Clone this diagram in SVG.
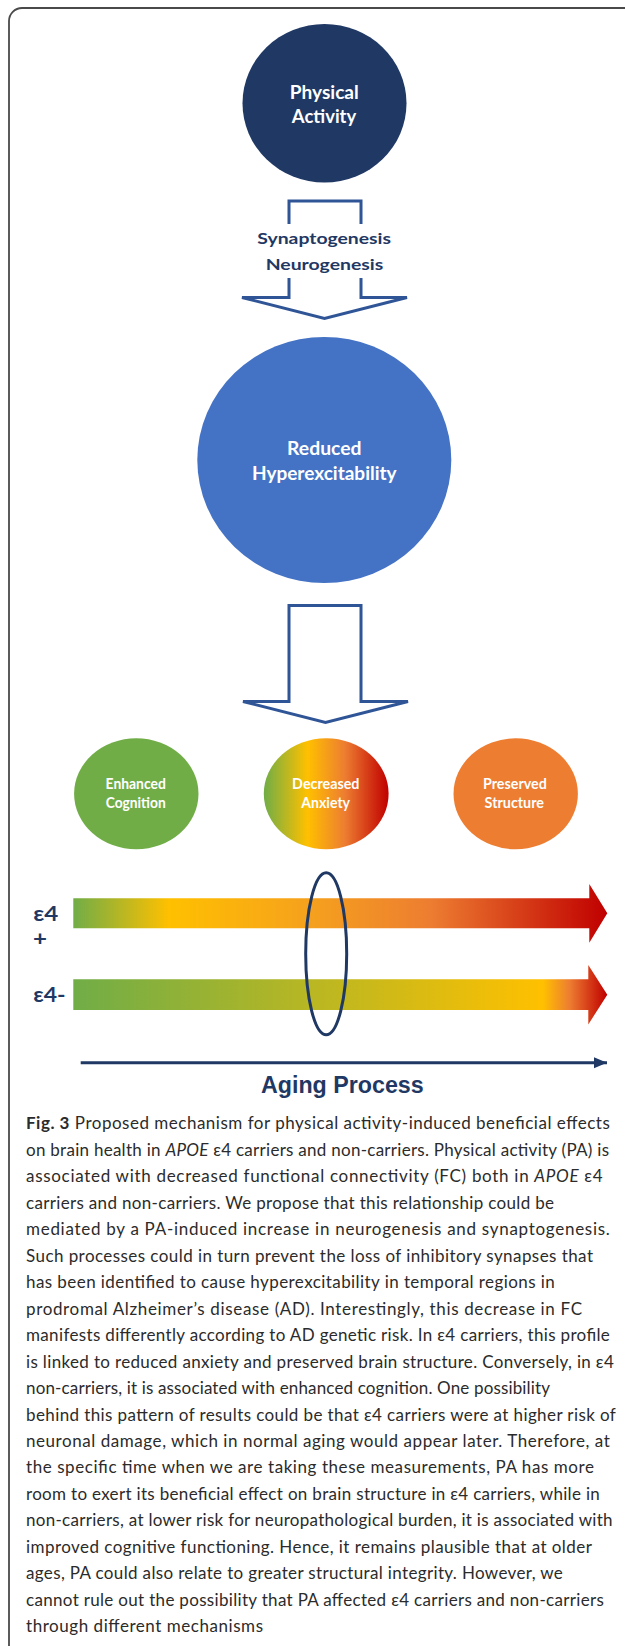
<svg xmlns="http://www.w3.org/2000/svg" width="625" height="1646" viewBox="0 0 625 1646">
<style>
  .lbl { font-family: Lato, "Open Sans", "Liberation Sans", sans-serif; font-weight: bold; fill: #ffffff; text-anchor: middle; }
  .big { font-size: 18.5px; }
  .mid { font-size: 16px; fill: #1F3864; }
  .sm { font-size: 14.5px; }
  .gen { font-family: Lato, "Open Sans", "Liberation Sans", sans-serif; font-weight: bold; font-size: 20px; fill: #1F3864; }
  .outline { fill: #ffffff; stroke: #2F5597; stroke-width: 3; stroke-linejoin: miter; }
  .cap { font-family: Lato, "Open Sans", "Liberation Sans", sans-serif; font-size: 17px; fill: #2b2b2b; }
</style>
<defs>
  <linearGradient id="gAnx" x1="0" y1="0" x2="1" y2="0">
    <stop offset="0" stop-color="#70AD47"/>
    <stop offset="0.35" stop-color="#FFC000"/>
    <stop offset="0.65" stop-color="#ED7D31"/>
    <stop offset="1" stop-color="#C00000"/>
  </linearGradient>
  <linearGradient id="gPlus" gradientUnits="userSpaceOnUse" x1="73" y1="0" x2="607" y2="0">
    <stop offset="0" stop-color="#70AD47"/>
    <stop offset="0.18" stop-color="#FFC000"/>
    <stop offset="0.45" stop-color="#F5A01E"/>
    <stop offset="0.67" stop-color="#ED7D31"/>
    <stop offset="1" stop-color="#C00000"/>
  </linearGradient>
  <linearGradient id="gMinus" gradientUnits="userSpaceOnUse" x1="73" y1="0" x2="607" y2="0">
    <stop offset="0" stop-color="#70AD47"/>
    <stop offset="0.88" stop-color="#FFC000"/>
    <stop offset="0.93" stop-color="#ED7D31"/>
    <stop offset="1" stop-color="#C00000"/>
  </linearGradient>
  <marker id="axHead" markerWidth="14" markerHeight="12" refX="13" refY="6" orient="auto" markerUnits="userSpaceOnUse">
    <path d="M0,0.5 L13,6 L0,11.5 Z" fill="#1F3864"/>
  </marker>
</defs>

<rect x="9" y="8" width="660" height="1680" rx="13" ry="13" fill="none" stroke="#4a4a4a" stroke-width="1.8"/>

<g id="physical-activity">
  <ellipse cx="324.5" cy="103.3" rx="82" ry="79.3" fill="#1F3864"/>
  <text class="lbl big" x="324.3" y="99.3" textLength="69" lengthAdjust="spacingAndGlyphs">Physical</text>
  <text class="lbl big" x="324" y="123.3" textLength="64.3" lengthAdjust="spacingAndGlyphs">Activity</text>
</g>

<g id="reduced-hyperexcitability">
  <ellipse cx="324.3" cy="460" rx="127" ry="123" fill="#4472C4"/>
  <text class="lbl big" x="324.3" y="455" textLength="74.5" lengthAdjust="spacingAndGlyphs">Reduced</text>
  <text class="lbl big" x="324.3" y="479.5" textLength="144.7" lengthAdjust="spacingAndGlyphs">Hyperexcitability</text>
</g>

<g id="enhanced-cognition">
  <ellipse cx="136.3" cy="793.8" rx="62.2" ry="55.5" fill="#70AD47"/>
  <text class="lbl sm" x="135.7" y="789.3" textLength="60.2" lengthAdjust="spacingAndGlyphs">Enhanced</text>
  <text class="lbl sm" x="135.7" y="808.3" textLength="60" lengthAdjust="spacingAndGlyphs">Cognition</text>
</g>

<g id="decreased-anxiety">
  <ellipse cx="326.2" cy="793.8" rx="62.4" ry="55.5" fill="url(#gAnx)"/>
  <text class="lbl sm" x="325.8" y="789.3" textLength="67.4" lengthAdjust="spacingAndGlyphs">Decreased</text>
  <text class="lbl sm" x="325.7" y="808.3" textLength="48.7" lengthAdjust="spacingAndGlyphs">Anxiety</text>
</g>

<g id="preserved-structure">
  <ellipse cx="515.7" cy="793.8" rx="62.2" ry="55.5" fill="#ED7D31"/>
  <text class="lbl sm" x="514.9" y="789.3" textLength="63.8" lengthAdjust="spacingAndGlyphs">Preserved</text>
  <text class="lbl sm" x="514.3" y="808.3" textLength="59.4" lengthAdjust="spacingAndGlyphs">Structure</text>
</g>

<g id="e4-plus">
  <polygon points="73.3,898.3 589.3,898.3 589.3,884 607.3,913.3 589.3,942.7 589.3,928.3 73.3,928.3" fill="url(#gPlus)"/>
  <text class="gen" x="33.3" y="921" textLength="25" lengthAdjust="spacingAndGlyphs">ε4</text>
  <text class="gen" x="33" y="946" textLength="14" lengthAdjust="spacingAndGlyphs">+</text>
</g>

<g id="e4-minus">
  <polygon points="73.3,979.3 588.3,979.3 588.3,965 607.3,994.7 588.3,1024.4 588.3,1010 73.3,1010" fill="url(#gMinus)"/>
  <text class="gen" x="33.3" y="1002.3" textLength="32.4" lengthAdjust="spacingAndGlyphs">ε4-</text>
</g>

<g id="highlight-ellipse">
  <ellipse cx="326.2" cy="953.8" rx="20.5" ry="81" fill="none" stroke="#1F3864" stroke-width="3"/>
</g>

<g id="connectors">
  <path class="outline" fill="none" d="M289,224 V201 H361 V224" style="fill:none"/>
  <path class="outline" d="M289,278 V297.5 H242 L324.5,318.5 L407,297.5 H361 V278" style="fill:none"/>
  <path class="outline" d="M289,605.5 H361 V701.5 H408 L325.5,722.5 L243,701.5 H289 Z" style="fill:none"/>
  <line x1="80.7" y1="1062.7" x2="607" y2="1062.7" stroke="#1F3864" stroke-width="3" marker-end="url(#axHead)"/>
</g>

<g id="arrow-labels">
  <text class="lbl mid" x="324.2" y="244.3" textLength="133.7" lengthAdjust="spacingAndGlyphs">Synaptogenesis</text>
  <text class="lbl mid" x="324.5" y="270" textLength="117.6" lengthAdjust="spacingAndGlyphs">Neurogenesis</text>
</g>

<g id="axis-label">
  <text x="261" y="1093.3" font-family="'Liberation Sans', Arial, sans-serif" font-weight="bold" font-size="23px" fill="#1F3864" textLength="162.7" lengthAdjust="spacingAndGlyphs">Aging Process</text>
</g>

<g id="caption" class="cap">
  <text class="cap" x="26" y="1129.3" textLength="583.8"><tspan font-weight="bold">Fig. 3</tspan> Proposed mechanism for physical activity-induced beneficial effects</text>
  <text class="cap" x="26" y="1155.8" textLength="583">on brain health in <tspan font-style="italic">APOE</tspan> ε4 carriers and non-carriers. Physical activity (PA) is</text>
  <text class="cap" x="26" y="1182.2" textLength="576.6">associated with decreased functional connectivity (FC) both in <tspan font-style="italic">APOE</tspan> ε4</text>
  <text class="cap" x="26" y="1208.7" textLength="528">carriers and non-carriers. We propose that this relationship could be</text>
  <text class="cap" x="26" y="1235.2" textLength="583.8">mediated by a PA-induced increase in neurogenesis and synaptogenesis.</text>
  <text class="cap" x="26" y="1261.7" textLength="567">Such processes could in turn prevent the loss of inhibitory synapses that</text>
  <text class="cap" x="26" y="1288.1" textLength="528.8">has been identified to cause hyperexcitability in temporal regions in</text>
  <text class="cap" x="26" y="1314.6" textLength="556">prodromal Alzheimer’s disease (AD). Interestingly, this decrease in FC</text>
  <text class="cap" x="26" y="1341.1" textLength="583.8">manifests differently according to AD genetic risk. In ε4 carriers, this profile</text>
  <text class="cap" x="26" y="1367.5" textLength="587.8">is linked to reduced anxiety and preserved brain structure. Conversely, in ε4</text>
  <text class="cap" x="26" y="1394" textLength="524">non-carriers, it is associated with enhanced cognition. One possibility</text>
  <text class="cap" x="26" y="1420.5" textLength="589.8">behind this pattern of results could be that ε4 carriers were at higher risk of</text>
  <text class="cap" x="26" y="1447" textLength="583.8">neuronal damage, which in normal aging would appear later. Therefore, at</text>
  <text class="cap" x="26" y="1473.4" textLength="567.9">the specific time when we are taking these measurements, PA has more</text>
  <text class="cap" x="26" y="1499.9" textLength="573.8">room to exert its beneficial effect on brain structure in ε4 carriers, while in</text>
  <text class="cap" x="26" y="1526.4" textLength="586.6">non-carriers, at lower risk for neuropathological burden, it is associated with</text>
  <text class="cap" x="26" y="1552.8" textLength="565.9">improved cognitive functioning. Hence, it remains plausible that at older</text>
  <text class="cap" x="26" y="1579.3" textLength="536.8">ages, PA could also relate to greater structural integrity. However, we</text>
  <text class="cap" x="26" y="1605.8" textLength="577.8">cannot rule out the possibility that PA affected ε4 carriers and non-carriers</text>
  <text class="cap" x="26" y="1632.2" textLength="237">through different mechanisms</text>
</g>
</svg>
